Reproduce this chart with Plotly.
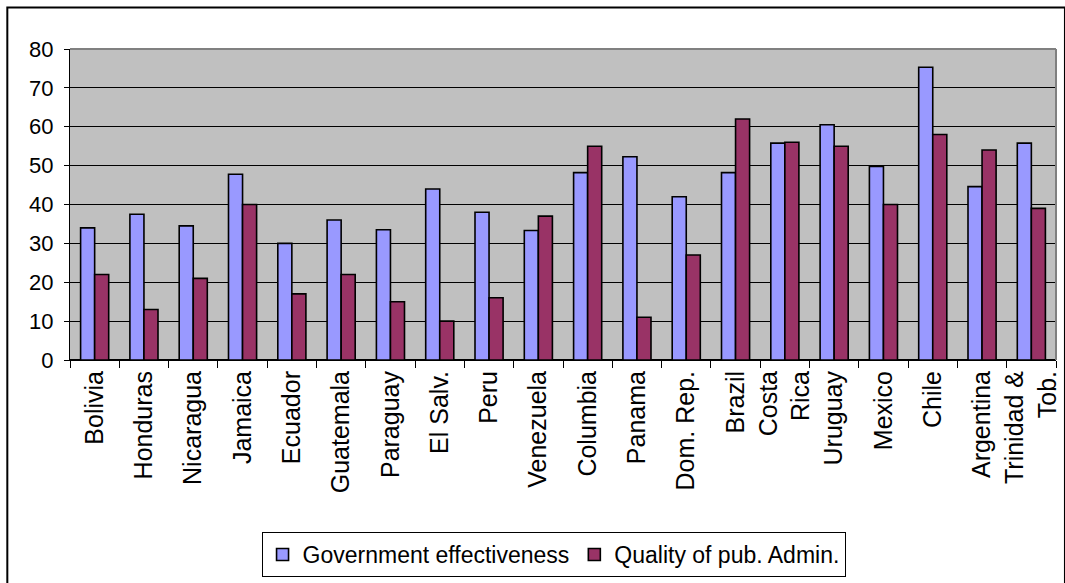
import plotly.graph_objects as go

# Country categories (line breaks for two-line tick labels)
countries = [
    "Bolivia", "Honduras", "Nicaragua", "Jamaica", "Ecuador", "Guatemala",
    "Paraguay", "El Salv.", "Peru", "Venezuela", "Columbia", "Panama",
    "Dom. Rep.", "Brazil", "Costa<br>Rica", "Uruguay", "Mexico", "Chile",
    "Argentina", "Trinidad &<br>Tob.",
]

gov_effectiveness = [
    34, 37.5, 34.5, 47.8, 30, 36, 33.5, 44, 38, 33.3,
    48.2, 52.3, 42, 48.2, 55.8, 60.5, 49.8, 75.3, 44.6, 55.8,
]

quality_pub_admin = [
    22, 13, 21, 40, 17, 22, 15, 10, 16, 37,
    55, 11, 27, 62, 56, 55, 40, 58, 54, 39,
]

y_ticks = [0, 10, 20, 30, 40, 50, 60, 70, 80]

FONT = "Arial, Liberation Sans, sans-serif"
W, H = 1065, 583
ML, MR, MT, MB = 70, 4, 49, 223
PW = W - ML - MR
PH = H - MT - MB


def px_x(x):
    return (x - ML) / PW


def px_y(y):
    return (H - MB - y) / PH


fig = go.Figure()
fig.add_trace(go.Bar(
    x=countries, y=gov_effectiveness, name="Government effectiveness",
    marker=dict(color="#9999FF", line=dict(color="#000000", width=1.6)),
))
fig.add_trace(go.Bar(
    x=countries, y=quality_pub_admin, name="Quality of pub. Admin.",
    marker=dict(color="#993366", line=dict(color="#000000", width=1.6)),
))

fig.update_layout(
    width=W, height=H,
    margin=dict(l=ML, r=MR, t=MT, b=MB),
    paper_bgcolor="white",
    plot_bgcolor="#C0C0C0",
    barmode="group",
    bargap=0.43,
    bargroupgap=0,
    font=dict(family=FONT, color="black"),
    showlegend=True,
    legend=dict(
        orientation="h",
        x=px_x(556), xanchor="center",
        y=px_y(532), yanchor="top",
        bgcolor="white",
        bordercolor="black",
        borderwidth=1,
        font=dict(family=FONT, size=23, color="black"),
        itemwidth=30,
        traceorder="normal",
    ),
    xaxis=dict(
        type="category",
        tickangle=-90,
        tickfont=dict(family=FONT, size=25, color="black"),
        ticks="outside",
        tickson="boundaries",
        ticklen=7,
        tickcolor="black",
        showline=True,
        linecolor="black",
        linewidth=1,
        showgrid=False,
        fixedrange=True,
    ),
    yaxis=dict(
        range=[0, 80],
        tickvals=y_ticks,
        tickfont=dict(family=FONT, size=22, color="black"),
        ticks="outside",
        ticklen=5,
        tickcolor="black",
        ticklabelstandoff=6,
        showline=True,
        linecolor="black",
        linewidth=1,
        showgrid=True,
        gridcolor="black",
        gridwidth=1,
        zeroline=True,
        zerolinecolor="black",
        fixedrange=True,
    ),
    shapes=[
        # grey plot-area edge on top and right
        dict(type="line", xref="paper", yref="paper", x0=0, x1=1, y0=1, y1=1,
             line=dict(color="#808080", width=2), layer="above"),
        dict(type="line", xref="paper", yref="paper", x0=1, x1=1, y0=0, y1=1,
             line=dict(color="#808080", width=2), layer="above"),
        # chart-area frame
        dict(type="rect", xref="paper", yref="paper",
             x0=px_x(7), x1=px_x(W + 5), y0=px_y(H + 5), y1=px_y(7.5),
             line=dict(color="black", width=2), fillcolor="rgba(0,0,0,0)",
             layer="above"),
    ],
)

fig.write_html("out.html")
